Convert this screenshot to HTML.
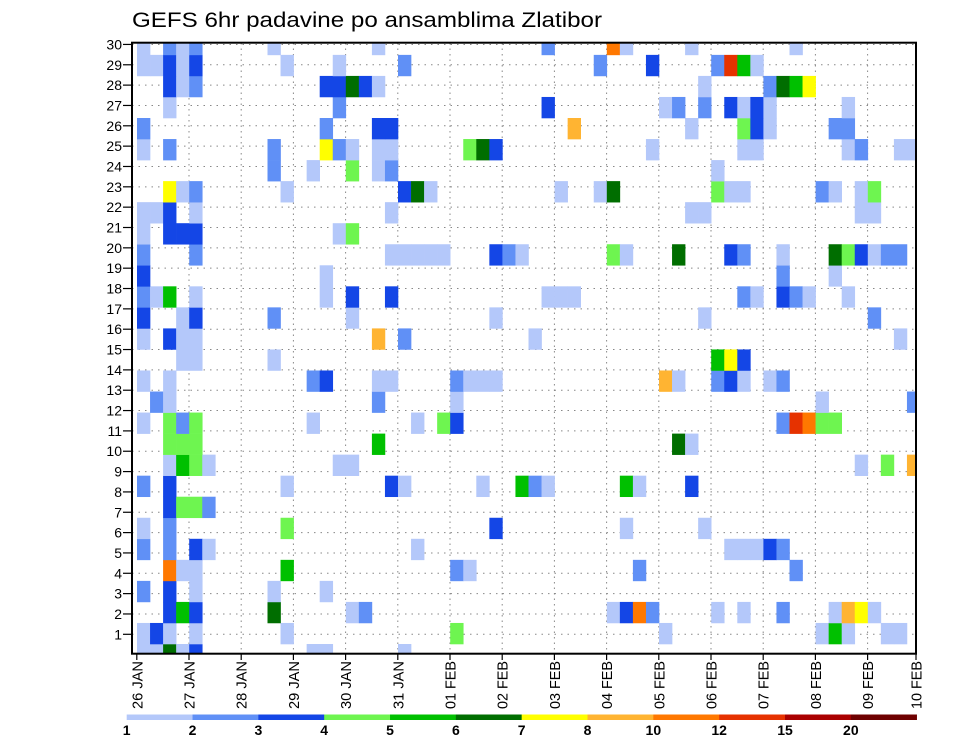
<!DOCTYPE html>
<html><head><meta charset="utf-8">
<style>
html,body{margin:0;padding:0;background:#fff;}
svg{display:block;font-family:"Liberation Sans",sans-serif;}
</style></head>
<body>
<svg id="chart" width="960" height="742" viewBox="0 0 960 742" xmlns="http://www.w3.org/2000/svg">
<defs><clipPath id="plotclip"><rect x="133" y="43" width="783" height="610.5"/></clipPath></defs>
<text x="132" y="27" font-size="21" textLength="470" lengthAdjust="spacingAndGlyphs" fill="#000">GEFS 6hr padavine po ansamblima Zlatibor</text>
<g id="grid"></g>
<g id="cells" clip-path="url(#plotclip)"></g>
<rect x="132" y="42.7" width="784" height="611" fill="none" stroke="#000" stroke-width="2"/>
<g id="yaxis"></g>
<g id="xaxis"></g>
<g id="legend"></g>
</svg>
<script>
// --- data ---
const breaks = [1,2,3,4,5,6,7,8,10,12,15,20];
const breakColors = ["#b4c8fa","#6090f6","#1446e6","#6ef550","#00c000","#006e00","#ffff00","#ffb432","#ff7800","#e63200","#aa0000","#6e0000"];
const levelValues = {"1":1.5,"2":2.5,"3":3.5,"4":4.5,"5":5.5,"6":6.5,"7":7.5,"8":9,"9":11,"a":13.5,"b":17};
const dayLabels = ["26 JAN","27 JAN","28 JAN","29 JAN","30 JAN","31 JAN","01 FEB","02 FEB","03 FEB","04 FEB","05 FEB","06 FEB","07 FEB","08 FEB","09 FEB","10 FEB"];
const memberLabels = [1,2,3,4,5,6,7,8,9,10,11,12,13,14,15,16,17,18,19,20,21,22,23,24,25,26,27,28,29,30];
// members index 0 (bottom) .. 29 (top); entries "step:level"
const members = [
"0:1 1:1 2:6 3:1 4:3 13:1 14:1 20:1",
"0:1 1:3 2:1 4:1 11:1 24:4 40:1 52:1 53:5 54:1 57:1 58:1",
"2:3 3:5 4:3 10:6 16:1 17:2 36:1 37:3 38:9 39:2 44:1 46:1 49:2 53:1 54:8 55:7 56:1",
"0:2 2:3 4:1 10:1 14:1",
"2:9 3:1 4:1 11:5 24:2 25:1 38:2 50:2",
"0:2 2:2 4:3 5:1 21:1 45:1 46:1 47:1 48:3 49:2",
"0:1 2:2 11:4 27:3 37:1 43:1",
"2:3 3:4 4:4 5:2",
"0:2 2:3 11:1 19:3 20:1 26:1 29:5 30:2 31:1 37:5 38:1 42:3",
"2:1 3:5 4:4 5:1 15:1 16:1 55:1 57:4 59:8",
"2:4 3:4 4:4 18:5 41:6 42:1",
"0:1 2:4 3:2 4:4 13:1 21:1 23:4 24:3 49:2 50:a 51:9 52:4 53:4",
"1:2 2:1 18:2 24:1 52:1 59:2",
"0:1 2:1 13:2 14:3 18:1 19:1 24:2 25:1 26:1 27:1 40:8 41:1 44:2 45:3 46:1 48:1 49:2",
"3:1 4:1 10:1 44:5 45:7 46:3",
"0:1 2:3 3:1 4:1 18:8 20:2 30:1 58:1",
"0:3 3:1 4:3 10:2 16:1 27:1 43:1 56:2",
"0:2 1:1 2:5 4:1 14:1 16:3 19:3 31:1 32:1 33:1 46:2 47:1 49:3 50:2 51:1 54:1",
"0:3 14:1 49:2 53:1",
"0:2 4:2 19:1 20:1 21:1 22:1 23:1 27:3 28:2 29:1 36:4 37:1 41:6 45:3 46:2 49:1 53:6 54:4 55:3 56:1 57:2 58:2",
"0:1 2:3 3:3 4:3 15:1 16:4",
"0:1 1:1 2:3 4:1 19:1 42:1 43:1 55:1 56:1",
"2:7 3:1 4:2 11:1 20:3 21:6 22:1 32:1 35:1 36:6 44:4 45:1 46:1 52:2 53:1 55:1 56:4",
"10:2 13:1 16:4 18:1 19:2 44:1",
"0:1 2:2 10:2 14:7 15:2 16:1 18:1 19:1 25:4 26:6 27:3 39:1 46:1 47:1 54:1 55:2 58:1 59:1",
"0:2 14:2 18:3 19:3 33:8 42:1 46:4 47:3 48:1 53:2 54:2",
"2:1 15:2 31:3 40:1 41:2 43:2 45:3 46:1 47:3 48:1 54:1",
"2:3 3:1 4:2 14:3 15:3 16:6 17:3 18:1 43:1 48:2 49:6 50:5 51:7",
"0:1 1:1 2:3 3:1 4:3 11:1 15:1 20:2 35:2 39:3 44:2 45:a 46:5 47:1",
"0:1 2:2 3:1 4:2 10:1 18:1 31:2 36:9 37:1 42:1 50:1"
];

// --- scales ---
const NS = "http://www.w3.org/2000/svg";
const X0 = 137, DX = 13.05, ROWH = 21.04, ROW0TOP = 644;
function xStep(s){ return X0 + DX*s; }
function yMemberTop(m){ return ROW0TOP - ROWH*m; }
function xDay(d){ return d < 15 ? 136.8 + 52.2*d : 916; }
function yLabel(k){ return 634.3 - (k-1)*20.34; }
function colorFor(v){ let c=null; for(let i=0;i<breaks.length;i++){ if(v>=breaks[i]) c=breakColors[i]; } return c; }
function mk(tag, attrs, parent){ const e=document.createElementNS(NS,tag); for(const k in attrs) e.setAttribute(k,attrs[k]); parent.appendChild(e); return e; }

// grid
const grid = document.getElementById('grid');
memberLabels.forEach(k=>{
  const l = mk('line',{x1:132,x2:916,y1:yLabel(k),y2:yLabel(k),stroke:'#888','stroke-width':1,'stroke-dasharray':'1.5,5'},grid);
  
  
});
dayLabels.forEach((t,d)=>{
  if(d===0||d===15) return;
  const l = mk('line',{x1:xDay(d),x2:xDay(d),y1:43,y2:653,stroke:'#888','stroke-width':1,'stroke-dasharray':'1.5,4'},grid);
  
  
});

// cells
const cg = document.getElementById('cells');
members.forEach((row,m)=>{
  row.split(' ').forEach(tok=>{
    if(!tok) return;
    const [s,lv] = tok.split(':');
    const v = levelValues[lv];
    const r = mk('rect',{x:xStep(+s),y:yMemberTop(m),width:DX+0.3,height:ROWH+0.3,fill:colorFor(v)},cg);
    
    
  });
});

// y axis
const ya = document.getElementById('yaxis');
memberLabels.forEach(k=>{
  const y = yLabel(k);
  const t = mk('line',{x1:123,x2:132,y1:y,y2:y,stroke:'#000','stroke-width':1.2},ya);
  
  
  const tx = mk('text',{x:122,y:y+5,'font-size':14,'text-anchor':'end',fill:'#000'},ya);
  tx.textContent = k;
  
  
});

// x axis
const xa = document.getElementById('xaxis');
dayLabels.forEach((lab,d)=>{
  const x = xDay(d);
  const t = mk('line',{x1:x,x2:x,y1:653,y2:660,stroke:'#000','stroke-width':1.2},xa);
  
  
  const tx = mk('text',{x:0,y:0,'font-size':15,'text-anchor':'start',fill:'#000',transform:'translate('+(x+5.5)+',709) rotate(-90)',textLength:48,lengthAdjust:'spacingAndGlyphs'},xa);
  tx.textContent = lab;
  
  
});

// legend
const lg = document.getElementById('legend');
const LX0 = 126.7, LW = 65.83;
breakColors.forEach((c,i)=>{
  const r = mk('rect',{x:LX0+LW*i,y:714.5,width:LW+0.3,height:5.5,fill:c},lg);
  
  
});
breaks.forEach((b,i)=>{
  const t = mk('text',{x:LX0+LW*i,y:735,'font-size':14,'font-weight':'bold','text-anchor':'middle',fill:'#000'},lg);
  t.textContent = b;
  
  
});
</script>
</body></html>
